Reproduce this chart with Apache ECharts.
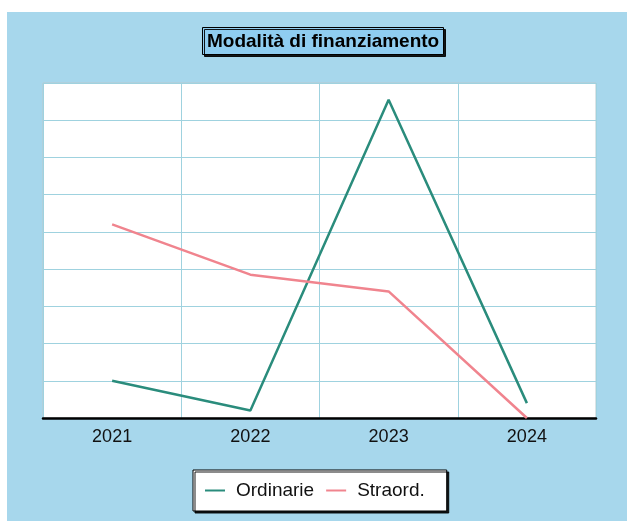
<!DOCTYPE html>
<html>
<head>
<meta charset="utf-8">
<script src="https://cdn.jsdelivr.net/npm/echarts@6/dist/echarts.min.js"></script>
<style>
  html, body { margin: 0; padding: 0; background: #ffffff; overflow: hidden; }
  #frame { position: absolute; left: 7px; top: 12px; width: 620px; height: 509px; background: #a7d7ec; }
  #chart { position: absolute; left: 0; top: 0; width: 627px; height: 521px; }
</style>
</head>
<body>
<div id="frame"></div>
<div id="chart"></div>
<script>
// Funding mode per year
const years = ['2021', '2022', '2023', '2024'];
const ordinarie = [1.0, 0.2, 8.55, 0.4];
const straord = [5.2, 3.85, 3.4, 0.0];

const font = 'Liberation Sans, Arial, sans-serif';
const chart = echarts.init(document.getElementById('chart'));
chart.setOption({
  backgroundColor: 'transparent',
  animation: false,
  title: {
    text: 'Modalità di finanziamento',
    left: 202,
    top: 27,
    backgroundColor: '#8fcdf0',
    borderColor: '#000',
    borderWidth: 1,
    padding: [5, 5, 4, 5],
    shadowColor: 'rgba(0,0,0,0.9)',
    shadowOffsetX: 2,
    shadowOffsetY: 2,
    textStyle: { fontFamily: font, fontSize: 19, fontWeight: 'bold', color: '#000' }
  },
  legend: {
    top: 470,
    left: 193,
    data: ['Ordinarie', 'Straord.'],
    backgroundColor: '#ffffff',
    borderColor: '#000',
    borderWidth: 1,
    padding: [11, 22, 11, 12],
    itemGap: 12,
    itemWidth: 20,
    itemHeight: 10,
    shadowColor: 'rgba(0,0,0,0.9)',
    shadowOffsetX: 2,
    shadowOffsetY: 2,
    icon: 'path://M0,4 L20,4 L20,6 L0,6 Z',
    textStyle: { fontFamily: font, fontSize: 19, color: '#111', padding: [0, 0, 0, 6] }
  },
  grid: {
    left: 43, right: 31, top: 83, bottom: 103,
    show: true, backgroundColor: '#ffffff', borderColor: '#b9c9cf', borderWidth: 1
  },
  xAxis: {
    type: 'category',
    data: years,
    boundaryGap: true,
    axisLine: { lineStyle: { color: '#000', width: 2.5 } },
    axisTick: { show: false },
    axisLabel: { color: '#111', fontSize: 18, margin: 10, fontFamily: font },
    splitLine: { show: true, lineStyle: { color: '#9fd2df', width: 1 } }
  },
  yAxis: {
    type: 'value',
    min: 0, max: 9, interval: 1,
    axisLine: { show: false },
    axisTick: { show: false },
    axisLabel: { show: false },
    splitLine: { lineStyle: { color: '#9fd2df', width: 1 } }
  },
  series: [
    {
      name: 'Ordinarie', type: 'line', data: ordinarie,
      showSymbol: false, symbol: 'none',
      lineStyle: { color: '#2a8c7c', width: 2.5 },
      itemStyle: { color: '#2a8c7c' }
    },
    {
      name: 'Straord.', type: 'line', data: straord,
      showSymbol: false, symbol: 'none',
      lineStyle: { color: '#f0848e', width: 2.5 },
      itemStyle: { color: '#f0848e' }
    }
  ]
});
</script>
</body>
</html>
